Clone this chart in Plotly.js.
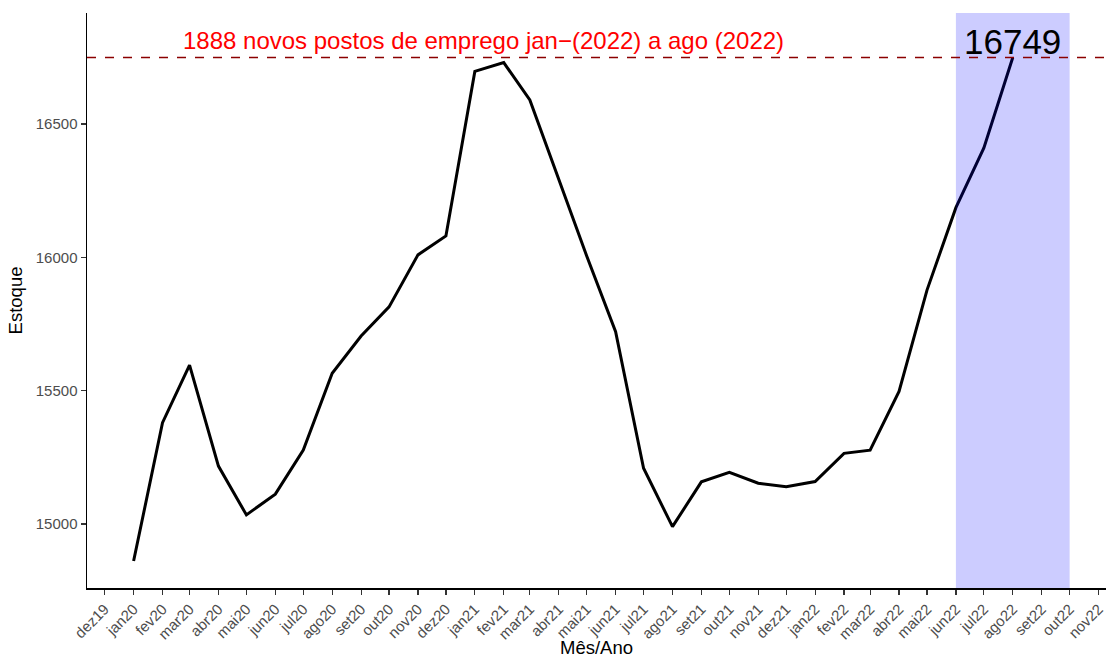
<!DOCTYPE html>
<html>
<head>
<meta charset="utf-8">
<script src="https://cdn.plot.ly/plotly-3.0.1.min.js"></script>
<style>html,body{margin:0;padding:0;background:#fff;}#chart{width:1106px;height:658px;}</style>
</head>
<body>
<div id="chart"></div>
<script>
// Months (data) — first day of each month
const months = ["2020-01-01","2020-02-01","2020-03-01","2020-04-01","2020-05-01","2020-06-01",
  "2020-07-01","2020-08-01","2020-09-01","2020-10-01","2020-11-01","2020-12-01",
  "2021-01-01","2021-02-01","2021-03-01","2021-04-01","2021-05-01","2021-06-01",
  "2021-07-01","2021-08-01","2021-09-01","2021-10-01","2021-11-01","2021-12-01",
  "2022-01-01","2022-02-01","2022-03-01","2022-04-01","2022-05-01","2022-06-01",
  "2022-07-01","2022-08-01"];
const estoque = [14861,15380,15596,15217,15034,15112,15277,15565,15705,15814,16009,16080,
  16697,16730,16590,16290,16005,15721,15209,14990,15158,15194,15153,15140,
  15159,15265,15277,15497,15877,16186,16410,16749];

// Axis ticks
const tickDates = ["2019-12-01","2020-01-01","2020-02-01","2020-03-01","2020-04-01","2020-05-01",
  "2020-06-01","2020-07-01","2020-08-01","2020-09-01","2020-10-01","2020-11-01","2020-12-01",
  "2021-01-01","2021-02-01","2021-03-01","2021-04-01","2021-05-01","2021-06-01","2021-07-01",
  "2021-08-01","2021-09-01","2021-10-01","2021-11-01","2021-12-01","2022-01-01","2022-02-01",
  "2022-03-01","2022-04-01","2022-05-01","2022-06-01","2022-07-01","2022-08-01","2022-09-01",
  "2022-10-01","2022-11-01"];
const tickLabels = ["dez19","jan20","fev20","mar20","abr20","mai20","jun20","jul20","ago20","set20",
  "out20","nov20","dez20","jan21","fev21","mar21","abr21","mai21","jun21","jul21","ago21","set21",
  "out21","nov21","dez21","jan22","fev22","mar22","abr22","mai22","jun22","jul22","ago22","set22",
  "out22","nov22"];
const yTicks = [15000, 15500, 16000, 16500];

const refValue = 16749;
const novosPostos = 1888;
const shadeStart = "2022-06-01";
const shadeEnd = "2022-10-01";
const labelText = novosPostos + " novos postos de emprego jan\u2212(2022) a ago (2022)";

const trace = {
  x: months, y: estoque, type: "scatter", mode: "lines",
  line: {color: "#000000", width: 3}, hoverinfo: "x+y"
};

const layout = {
  width: 1106, height: 658,
  margin: {l: 87, r: 0, t: 13, b: 70},
  paper_bgcolor: "#ffffff", plot_bgcolor: "#ffffff",
  showlegend: false,
  font: {family: "Liberation Sans, Arial, sans-serif", color: "#000"},
  xaxis: {
    type: "date",
    range: ["2019-11-12", "2022-11-09"],
    tickmode: "array", tickvals: tickDates, ticktext: tickLabels,
    tickangle: -45,
    tickfont: {size: 15, color: "#4d4d4d"},
    ticks: "outside", ticklen: 5, tickwidth: 1.2, tickcolor: "#333333",
    showline: true, linecolor: "#000000", linewidth: 1.5,
    showgrid: false, zeroline: false,
    title: {text: "Mês/Ano", font: {size: 18.5, color: "#000"}, standoff: 2}
  },
  yaxis: {
    range: [14760, 16916],
    tickmode: "array", tickvals: yTicks, ticktext: yTicks.map(String),
    tickfont: {size: 15, color: "#4d4d4d"},
    ticks: "outside", ticklen: 5, tickwidth: 1.2, tickcolor: "#333333",
    showline: true, linecolor: "#000000", linewidth: 1.5,
    showgrid: false, zeroline: false,
    title: {text: "Estoque", font: {size: 18.5, color: "#000"}, standoff: 8}
  },
  shapes: [
    {type: "rect", xref: "x", yref: "paper", x0: shadeStart, x1: shadeEnd, y0: 0, y1: 1,
     fillcolor: "rgba(0,0,255,0.2)", line: {width: 0}, layer: "above"},
    {type: "line", xref: "paper", yref: "y", x0: 0, x1: 1, y0: refValue, y1: refValue,
     line: {color: "#8b0000", width: 1.5, dash: "dash"}, layer: "above"}
  ],
  annotations: [
    {x: "2021-01-10", y: refValue, xref: "x", yref: "y", text: labelText, showarrow: false,
     xanchor: "center", yanchor: "middle", yshift: 17, font: {size: 24, color: "#ff0000"}},
    {x: months[months.length - 1], y: refValue, xref: "x", yref: "y", text: String(refValue),
     showarrow: false, xanchor: "center", yanchor: "middle", yshift: 16, font: {size: 35, color: "#000000"}}
  ]
};

Plotly.newPlot("chart", [trace], layout, {displayModeBar: false, staticPlot: true});
</script>
</body>
</html>
